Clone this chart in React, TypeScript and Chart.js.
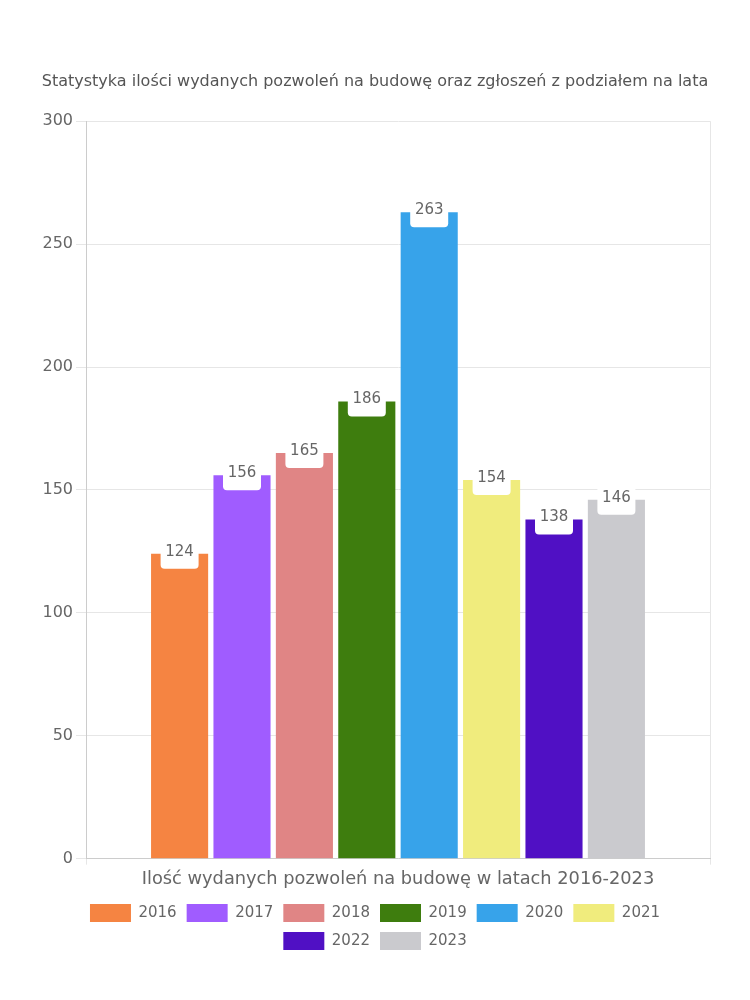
import React, { useEffect, useRef } from "react";
import { Chart, registerables } from "chart.js";

Chart.register(...registerables);

const categories = ["Ilość wydanych pozwoleń na budowę w latach 2016-2023"];
const years = ["2016", "2017", "2018", "2019", "2020", "2021", "2022", "2023"];
const values = [124, 156, 165, 186, 263, 154, 138, 146];
const colors = ["#F58442", "#A05CFF", "#E08585", "#3E7D0E", "#37A3EA", "#F0EC7D", "#5010C4", "#CACACE"];
const yTicks = [0, 50, 100, 150, 200, 250, 300];
const titleText = "Statystyka ilości wydanych pozwoleń na budowę oraz zgłoszeń z podziałem na lata";

const FONT = "'DejaVu Sans', sans-serif";
const TEXT = "#666666";

const labelPlugin = {
  id: "boxLabels",
  afterDatasetsDraw(chart: any) {
    const ctx = chart.ctx;
    ctx.save();
    chart.data.datasets.forEach((ds: any, i: number) => {
      const meta = chart.getDatasetMeta(i);
      if (meta.hidden) return;
      meta.data.forEach((el: any, j: number) => {
        const x = el.x;
        const y = el.y;
        ctx.fillStyle = "#ffffff";
        ctx.beginPath();
        (ctx as any).roundRect(x - 19, y - 16, 38, 31, 4);
        ctx.fill();
        ctx.fillStyle = TEXT;
        ctx.font = `15px ${FONT}`;
        ctx.textAlign = "center";
        ctx.textBaseline = "middle";
        ctx.fillText(String(ds.data[j]), x, y - 2);
      });
    });
    ctx.restore();
  },
};

export default function App() {
  const ref = useRef<HTMLCanvasElement>(null);
  useEffect(() => {
    document.body.style.margin = "0";
    const chart = new Chart(ref.current as HTMLCanvasElement, {
      type: "bar",
      data: {
        labels: categories,
        datasets: years.map((y, i) => ({
          label: y,
          data: [values[i]],
          backgroundColor: colors[i],
          borderWidth: 0,
        })),
      },
      options: {
        animation: false,
        responsive: false,
        maintainAspectRatio: false,
        datasets: { bar: { categoryPercentage: 0.8, barPercentage: 0.915 } } as any,
        layout: { padding: { left: 40, right: 40, top: 72, bottom: 40 } },
        plugins: {
          title: {
            display: true,
            text: titleText,
            color: "#555555",
            font: { family: FONT, size: 16, weight: "normal" },
            padding: { top: 0, bottom: 30 },
          },
          legend: {
            position: "bottom",
            labels: {
              boxWidth: 41,
              boxHeight: 18,
              padding: 10,
              color: TEXT,
              font: { family: FONT, size: 15 },
            },
          },
          tooltip: { enabled: false },
        },
        scales: {
          x: {
            grid: { color: "#e6e6e6", tickLength: 6, offset: true },
            border: { color: "#cccccc" },
            ticks: { color: TEXT, font: { family: FONT, size: 17.8 }, padding: 4 },
          },
          y: {
            min: 0,
            max: 300,
            afterBuildTicks: (scale: any) => {
              scale.ticks = yTicks.map((v) => ({ value: v }));
            },
            grid: { color: "#e6e6e6", tickLength: 10 },
            border: { color: "#cccccc" },
            ticks: { color: TEXT, font: { family: FONT, size: 16 }, padding: 3 },
            afterFit: (scale: any) => {
              scale.width = 46;
            },
          },
        },
      },
      plugins: [labelPlugin],
    });
    return () => chart.destroy();
  }, []);
  return <canvas ref={ref} width={750} height={1000} style={{ display: "block" }} />;
}
